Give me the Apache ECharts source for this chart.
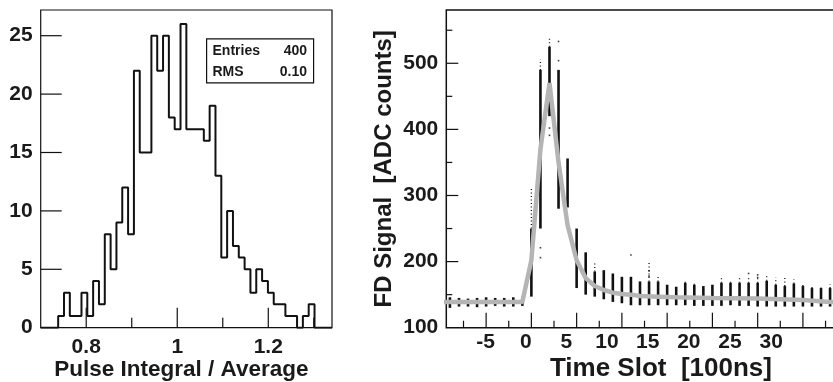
<!DOCTYPE html>
<html>
<head>
<meta charset="utf-8">
<script src="https://cdn.jsdelivr.net/npm/echarts@6/dist/echarts.min.js"></script>
<style>
html,body{margin:0;padding:0;background:#fff;}
#c{width:833px;height:382px;}
</style>
</head>
<body>
<div id="c"></div>
<script>
// ---------- Left panel: histogram ----------
const histMin = 0.7;
const histMax = 1.34;
const histBins = 50;
const histCounts = [0,0,0, 1,3,1,1,3,1,4,2,8,5,9,12,8,22,15,15,25,22,25,18,17,26,17,17,17,16,19,13,6,10,7,6,5,3,5,4,3,2,2,1,1,0,1,2, 0,0,0];
const histYMax = 27.2;
const histXMajor = [0.8, 1, 1.2];
const histXMinor = [0.9, 1.1, 1.3];
const histYTicks = [5, 10, 15, 20, 25];
const histYLabels = [0, 5, 10, 15, 20, 25];
const histXTitle = 'Pulse Integral / Average';
const statsNames = ['Entries', 'RMS'];
const statsValues = ['400', '0.10'];

// ---------- Right panel: FD signal trace ----------
const slotMin = -9.4;
const slotMax = 33.6;
const signalMin = 100;
const signalMax = 580.6;
// per time slot: low end, top of dense band, top of sparse dots
const slots   = [-9,-8,-7,-6,-5,-4,-3,-2,-1,0,1,2,3,4,5,6,7,8,9,10,11,12,13,14,15,16,17,18,19,20,21,22,23,24,25,26,27,28,29,30,31,32,33];
const sigLow  = [130,132,132,131,132,133,132,132,133,147,250,420,280,282,160,150,147,143,139,137,134,134,134,134,134,134,134,133,133,133,133,134,133,133,132,132,132,132,132,132,132,132,132];
const sigDense= [146,145,144,145,146,145,145,146,147,250,490,525,490,356,250,214,185,187,182,177,177,170,170,170,165,162,168,165,163,165,168,168,168,168,168,171,165,163,167,163,160,160,160];
const sigTop  = [146,145,144,145,146,145,145,146,147,311,506,541,490,356,250,214,197,187,182,177,177,170,198,178,165,162,171,168,163,165,176,171,176,176,176,179,176,176,173,167,163,161,166];
const outlierSlot  = [1, 1, 2, 2, 3, 3, 11, 13, 13, 24, 25, 25];
const outlierValue = [206, 221, 391, 402, 504, 533, 210, 186, 178, 182, 180, 176];
const fitSlot  = [-10,-9,-8,-7,-6,-5,-4,-3,-2,-1,0,1,2,3,4,5,6,7,8,9,10,11,12,14,16,20,25,30,33,35];
const fitValue = [139,139,139,139,139,139,139,139,139,139,202,370,470,350,255,202,175,163,157,153,151,150,148,147,146,145,144,142,139,139];
const slotMajor = [-5,0,5,10,15,20,25,30];
const slotMinor = [-7.5,-2.5,2.5,7.5,12.5,17.5,22.5,27.5,32.5];
const slotLabelPos  = [-5.05,-0.6,3.85,8.35,12.85,17.4,21.95,26.5];
const slotLabelText = ['-5','0','5','10','15','20','25','30'];
const sigMajor = [200,300,400,500];
const sigMinor = [150,250,350,450,550];
const sigLabels = [100,200,300,400,500];
const slotTitle = 'Time Slot  [100ns]';
const signalTitle = 'FD Signal  [ADC counts]';

// ---------- build ----------
const FONT = 'Liberation Sans, Arial, Helvetica, sans-serif';
const TXT = '#1a1a1a';
const INK = '#111';
const histWidth = (histMax - histMin) / histBins;
const histLine = histCounts.map((c, i) => [histMin + i * histWidth, c]);
histLine.push([histMax, 0]);

const columns = slots.map((s, i) => [s, sigLow[i], sigDense[i], sigTop[i]]);
const outliers = outlierSlot.map((s, i) => [s, outlierValue[i]]);
const fitData = fitSlot.map((s, i) => [s, fitValue[i]]);

const labelStyle = {fontFamily: FONT, fontWeight: 'bold', fontSize: 21, color: TXT};

// tick marks drawn inward from the frame, placed through the axis scales
function tickSeries(xi, yi, dir, vals, len, base) {
  return {
    type: 'custom', xAxisIndex: xi, yAxisIndex: yi, z: 5, silent: true,
    data: vals.map(v => [v]),
    renderItem: function (params, api) {
      const v = api.value(0);
      const p = dir === 'x' ? api.coord([v, base]) : api.coord([base, v]);
      const q = dir === 'x' ? [p[0], p[1] - len] : [p[0] + len, p[1]];
      return {type: 'line', shape: {x1: p[0], y1: p[1], x2: q[0], y2: q[1]},
              style: {stroke: INK, lineWidth: 1.2}};
    }
  };
}

const axisBase = {type: 'value', axisLine: {show: false, onZero: false}, axisTick: {show: false},
                  splitLine: {show: false}, nameMoveOverlap: false};

const chart = echarts.init(document.getElementById('c'), null, {renderer: 'canvas'});
chart.setOption({
  animation: false,
  backgroundColor: '#fff',
  grid: [
    {left: 40.7, top: 10, width: 291.3, height: 317.7, show: true, borderColor: INK, borderWidth: 1.2,
     backgroundColor: 'transparent', containLabel: false, outerBoundsMode: 'none'},
    {left: 446.3, top: 10, width: 389.2, height: 317.7, show: true, borderColor: INK, borderWidth: 1.5,
     backgroundColor: 'transparent', containLabel: false, outerBoundsMode: 'none'}
  ],
  xAxis: [
    Object.assign({}, axisBase, {gridIndex: 0, position: 'bottom', min: histMin, max: histMax,
     axisLabel: Object.assign({customValues: histXMajor, margin: 9}, labelStyle),
     name: histXTitle, nameLocation: 'middle', nameGap: 31,
     nameTextStyle: {fontFamily: FONT, fontWeight: 'bold', fontSize: 22.5, color: TXT, padding: [0, 10, 0, 0]}}),
    Object.assign({}, axisBase, {gridIndex: 1, position: 'bottom', min: slotMin, max: slotMax,
     axisLabel: Object.assign({customValues: slotLabelPos, margin: 4,
       formatter: v => { const k = slotLabelPos.indexOf(v); return k >= 0 ? slotLabelText[k] : ''; }}, labelStyle),
     name: slotTitle, nameLocation: 'middle', nameGap: 28,
     nameTextStyle: {fontFamily: FONT, fontWeight: 'bold', fontSize: 26, color: TXT, padding: [0, 0, 0, 40]}})
  ],
  yAxis: [
    Object.assign({}, axisBase, {gridIndex: 0, position: 'left', min: 0, max: histYMax,
     axisLabel: Object.assign({customValues: histYLabels, margin: 8}, labelStyle)}),
    Object.assign({}, axisBase, {gridIndex: 1, position: 'left', min: signalMin, max: signalMax,
     axisLabel: Object.assign({customValues: sigLabels, margin: 8}, labelStyle),
     name: signalTitle, nameLocation: 'middle', nameGap: 50,
     nameTextStyle: {fontFamily: FONT, fontWeight: 'bold', fontSize: 24, color: TXT}})
  ],
  series: [
    {type: 'line', xAxisIndex: 0, yAxisIndex: 0, data: histLine, step: 'end',
     symbol: 'none', lineStyle: {color: INK, width: 2}, z: 3},
    tickSeries(0, 0, 'x', histXMajor, 20, 0),
    tickSeries(0, 0, 'x', histXMinor, 10, 0),
    tickSeries(0, 0, 'y', histYTicks, 21, histMin),
    {type: 'custom', xAxisIndex: 1, yAxisIndex: 1, data: columns, z: 2,
     renderItem: function (params, api) {
       const x = api.value(0);
       const pLo = api.coord([x, api.value(1)]);
       const pMid = api.coord([x, api.value(2)]);
       const pHi = api.coord([x, api.value(3)]);
       return {type: 'group', children: [
         {type: 'rect', shape: {x: pLo[0] - 1.3, y: pMid[1], width: 2.6, height: Math.max(1, pLo[1] - pMid[1])},
          style: {fill: INK}},
         {type: 'line', shape: {x1: pMid[0], y1: pMid[1], x2: pHi[0], y2: pHi[1]},
          style: {stroke: INK, lineWidth: 1.3, lineDash: [1, 2.5]}}
       ]};
     }},
    {type: 'scatter', xAxisIndex: 1, yAxisIndex: 1, data: outliers, symbol: 'rect', symbolSize: 1.6,
     itemStyle: {color: INK}, z: 2},
    {type: 'line', xAxisIndex: 1, yAxisIndex: 1, data: fitData, symbol: 'none', smooth: false,
     lineStyle: {color: '#b5b5b5', width: 4.5}, z: 4},
    tickSeries(1, 1, 'x', slotMajor, 15, signalMin),
    tickSeries(1, 1, 'x', slotMinor, 7, signalMin),
    tickSeries(1, 1, 'y', sigMajor, 12, slotMin),
    tickSeries(1, 1, 'y', sigMinor, 6, slotMin)
  ],
  graphic: [
    {type: 'rect', left: 206, top: 38.3, shape: {width: 107, height: 44},
     style: {fill: '#fff', stroke: INK, lineWidth: 1.2}, z: 10},
    {type: 'text', left: 212.5, top: 44, style: {text: statsNames[0], font: 'bold 14px ' + FONT, fill: TXT}, z: 11},
    {type: 'text', right: 833 - 307, top: 44, style: {text: statsValues[0], font: 'bold 14px ' + FONT, fill: TXT}, z: 11},
    {type: 'text', left: 212.5, top: 65, style: {text: statsNames[1], font: 'bold 14px ' + FONT, fill: TXT}, z: 11},
    {type: 'text', right: 833 - 307, top: 65, style: {text: statsValues[1], font: 'bold 14px ' + FONT, fill: TXT}, z: 11}
  ]
});
</script>
</body>
</html>
